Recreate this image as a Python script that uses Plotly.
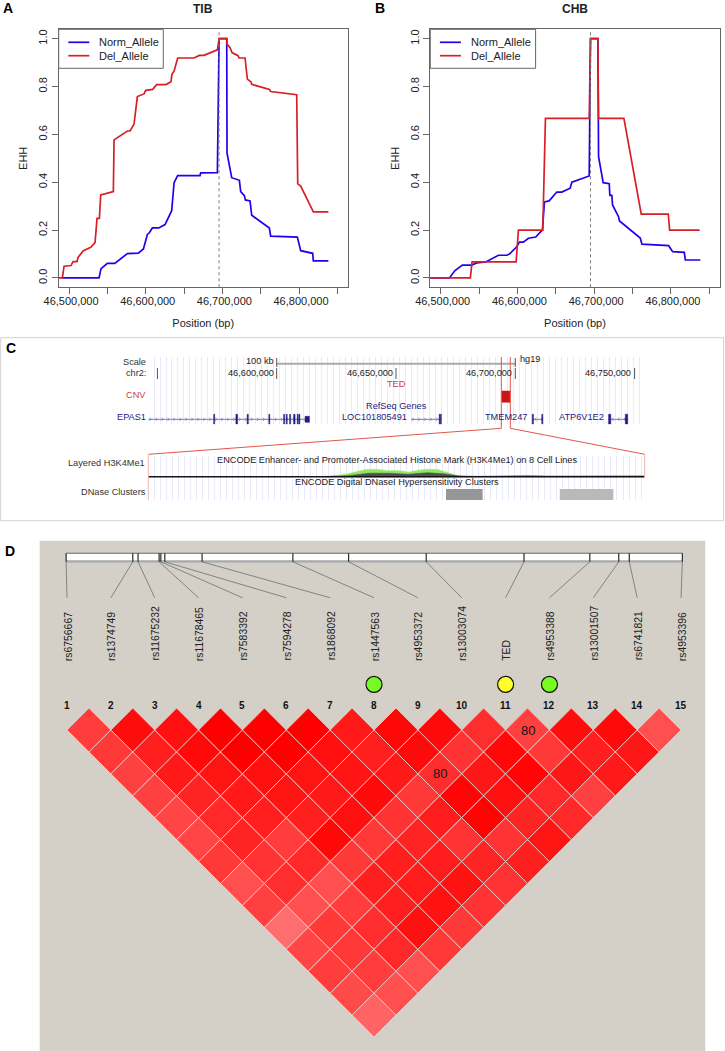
import plotly.graph_objects as go

W, H = 725, 1051
FONT = "Liberation Sans"
BLUE = "#2200ee"
RED = "#d81e26"
AXIS = "#666666"
NAVY = "#1f1a80"
ARROW = "#7a74bd"

# Panel A (TIB)
tib_norm_pos = [46491300, 46539100, 46541700, 46550000, 46559600, 46576100, 46590400, 46597000, 46602200,
                46604300, 46608700, 46617000, 46625200, 46633900, 46637000, 46641700, 46670900, 46671700,
                46693500, 46695700, 46705700, 46706100, 46712200, 46722200, 46723900, 46728700, 46730000,
                46736100, 46738300, 46761300, 46763000, 46797800, 46802200, 46817800, 46818700, 46838300]
tib_norm_ehh = [0, 0, .039, .061, .061, .102, .104, .121, .182, .187, .209, .209, .223, .281, .398, .428, .428,
                .439, .44, 1, 1, .521, .419, .408, .361, .344, .326, .322, .262, .209, .175, .171, .114, .103,
                .071, .071]
tib_del_pos = [46486500, 46491300, 46493500, 46502600, 46505200, 46510400, 46511700, 46518700, 46528300,
               46533900, 46536500, 46539600, 46541300, 46557800, 46558700, 46576100, 46579600, 46584800,
               46589100, 46597800, 46600000, 46609100, 46614300, 46626500, 46633000, 46634300, 46637000,
               46641700, 46663000, 46670000, 46676100, 46693500, 46695700, 46705700, 46706100, 46710000,
               46712600, 46720400, 46721700, 46729600, 46732600, 46737400, 46738300, 46761300, 46763000,
               46797000, 46798300, 46802200, 46818700, 46838300]
tib_del_ehh = [0, 0, .049, .052, .068, .068, .086, .114, .128, .148, .249, .249, .347, .361, .577, .614, .614,
               .643, .758, .769, .784, .788, .808, .808, .82, .852, .864, .919, .919, .93, .93, .953, 1, 1,
               .978, .962, .942, .929, .919, .919, .831, .819, .809, .788, .779, .766, .393, .384, .276, .276]
tib_core = 46695700

# Panel B (CHB)
chb_norm_pos = [46486100, 46511300, 46518700, 46528300, 46540400, 46547000, 46558700, 46575200, 46586100,
                46589600, 46599100, 46602600, 46607800, 46614300, 46623900, 46632600, 46635200, 46641300,
                46651300, 46657800, 46668700, 46670900, 46693500, 46695200, 46704800, 46705700, 46711700,
                46719600, 46720400, 46723000, 46723900, 46731700, 46733000, 46760000, 46762200, 46797000,
                46802200, 46817400, 46818700, 46838300]
chb_norm_ehh = [0, 0, .031, .054, .054, .063, .067, .095, .095, .1, .13, .15, .15, .166, .171, .201, .318, .322,
                .359, .359, .375, .4, .426, 1, 1, .507, .398, .394, .345, .345, .305, .256, .238, .167, .141,
                .135, .11, .107, .075, .075]
chb_del_pos = [46486100, 46538700, 46540900, 46598300, 46601300, 46633000, 46636500, 46693500, 46695200,
               46704800, 46705700, 46738700, 46761300, 46796500, 46798300, 46837400]
chb_del_ehh = [0, 0, .067, .067, .2, .2, .667, .667, 1, 1, .667, .667, .267, .267, .2, .2]
chb_core = 46695200

ehh_ticks = [0, .2, .4, .6, .8, 1]
pos_ticks = [46500000 + 50000 * k for k in range(8)]
pos_labels = ["46,500,000", "", "46,600,000", "", "46,700,000", "", "46,800,000", ""]
allele_names = ["Norm_Allele", "Del_Allele"]
allele_colors = [BLUE, RED]

# Panel C, browser view
browser_ticks = [46550000, 46600000, 46650000, 46700000, 46750000]
browser_labels = ["", "46,600,000", "46,650,000", "46,700,000", "46,750,000"]
scale_bar = [46600000, 46700000]
ted_region = [46694300, 46697900]
epas1_span = [46546200, 46613200]
epas1_exons = [(46573600, 46574000), (46582900, 46583600), (46587600, 46588100), (46596700, 46597100),
               (46602900, 46603300), (46604000, 46604400), (46605400, 46605800), (46607100, 46607700),
               (46608600, 46609000), (46609300, 46609700), (46611900, 46613700)]
loc_span = [46656300, 46669000]
loc_exons = [(46668100, 46668400), (46668600, 46669000)]
tmem_span = [46707000, 46711500]
tmem_exons = [(46707100, 46707600), (46711100, 46711500)]
atp_span = [46739300, 46747100]
atp_exons = [(46739100, 46740000), (46746100, 46747100)]

# Panel C, zoomed tracks
zoom_range = [46694300, 46698100]
green_pos = [46695640, 46695760, 46695830, 46695910, 46695960, 46696040, 46696140, 46696230, 46696290, 46696370,
             46696440, 46696520, 46696600, 46696670, 46696750]
green_height = [.3, 1.5, 3, 5.5, 7, 7.5, 6, 6, 4.5, 6.5, 7.5, 7, 3.5, 1, .3]
grey_pos = [46695640, 46695830, 46695990, 46696140, 46696290, 46696440, 46696560, 46696670, 46696790]
grey_height = [0, 1, 3.5, 3.5, 2.5, 4, 3, 1, .2]
blue_pos = [46696750, 46696900, 46697060, 46697210, 46697360, 46697540, 46698100]
blue_height = [.3, .8, 1, 1.2, .8, .9, .9]
dnase_blocks = [(46696580, 46696860, "#969696"), (46697450, 46697860, "#b9b9b9")]

# Panel D
snp_names = ["rs6756667", "rs1374749", "rs11675232", "rs11678465", "rs7583392", "rs7594278", "rs1868092",
             "rs1447563", "rs4953372", "rs13003074", "TED", "rs4953388", "rs13001507", "rs6741821", "rs4953396"]
snp_on_bar = [.98, 2.5, 2.62, 3.1, 3.14, 3.23, 4.08, 6.15, 7.42, 9.19, 11.42, 12.92, 13.58, 13.82, 15.03]
# upper triangle, one row per marker: LD strength in percent of full red
ld_strength = [
    [76, 78, 75, 75, 73, 73, 78, 69, 75, 57, 73, 76, 71, 61],
    [95, 88, 90, 86, 84, 86, 80, 82, 69, 78, 78, 76, 69],
    [94, 96, 92, 90, 88, 76, 84, 69, 76, 82, 84, 69],
    [100, 100, 94, 92, 88, 97, 78, 88, 88, 94, 78],
    [100, 100, 92, 90, 94, 78, 88, 89, 93, 78],
    [100, 94, 92, 96, 80, 86, 89, 93, 80],
    [90, 88, 90, 78, 89, 80, 86, 80],
    [97, 96, 82, 98, 99, 80, 88],
    [96, 80, 91, 94, 86, 92],
    [82, 97, 98, 84, 84],
    [75, 78, 91, 75],
    [95, 88, 90],
    [96, 91],
    [69],
]
ld_labels = {(11, 12): "80", (8, 11): "80"}
snp_marks = {8: "#78fb24", 11: "#ffff2a", 12: "#78fb24"}


def px(x):
    return x / W


def py(y):
    return 1 - y / H


fig = go.Figure()
annotations = []
shapes = []


def text(s, x, y, size=9.2, color="#222222", anchor="center", bold=False, angle=0, xref="paper", yref="paper", yanchor="middle"):
    annotations.append(dict(text=f"<b>{s}</b>" if bold else s, x=x, y=y, xref=xref, yref=yref, xanchor=anchor,
                            yanchor=yanchor, showarrow=False, textangle=angle, borderpad=0,
                            font=dict(size=size, color=color, family=FONT)))


def frame_line(x0, y0, x1, y1, color, width=1):
    shapes.append(dict(type="line", xref="paper", yref="paper", x0=px(x0), x1=px(x1), y0=py(y0), y1=py(y1),
                       line=dict(color=color, width=width)))


def add_ehh(pos, ehh, name, color, xa, ya):
    fig.add_trace(go.Scatter(x=pos, y=ehh, mode="lines", name=name, xaxis=xa, yaxis=ya,
                             showlegend=False, line=dict(color=color, width=1.7)))


add_ehh(tib_norm_pos, tib_norm_ehh, allele_names[0], BLUE, "x", "y")
add_ehh(tib_del_pos, tib_del_ehh, allele_names[1], RED, "x", "y")
add_ehh(chb_norm_pos, chb_norm_ehh, allele_names[0], BLUE, "x2", "y2")
add_ehh(chb_del_pos, chb_del_ehh, allele_names[1], RED, "x2", "y2")
for core, xref, yref in [(tib_core, "x", "y domain"), (chb_core, "x2", "y2 domain")]:
    shapes.append(dict(type="line", xref=xref, yref=yref, x0=core, x1=core, y0=0, y1=1,
                       line=dict(color="#777777", width=1, dash="dot")))


def legend_box(left, right):
    # plotly's own legend can't get rows this tight, so the R style box is drawn by hand
    shapes.append(dict(type="rect", xref="paper", yref="paper", x0=px(left), x1=px(right), y0=py(68.3), y1=py(29.3),
                       fillcolor="white", line=dict(color=AXIS, width=1)))
    for name, color, y in zip(allele_names, allele_colors, [42.3, 55.7]):
        frame_line(left + 9.6, y, left + 30.6, y, color, 1.7)
        text(name, px(left + 39.6), py(y), size=11, anchor="left")


legend_box(58.7, 163.3)
legend_box(430.3, 535.6)

# panel C frame
shapes.append(dict(type="rect", xref="paper", yref="paper", x0=px(.7), x1=px(723.6), y0=py(337.7), y1=py(520.7),
                   line=dict(color="#d2d2d2", width=1)))


def add_gene(span, exons, direction, y=419.3):
    # chevrons every 6 px or so along the intron line, like the browser draws them
    lean = 630 if direction == "right" else -630
    xs, ys = [], []
    for x in range(span[0] + 1200, span[1], 2500):
        xs += [x - lean, x, x - lean, None]
        ys += [y - 1.6, y, y + 1.6, None]
    fig.add_trace(go.Scatter(x=span, y=[y, y], mode="lines", xaxis="x3", yaxis="y3", showlegend=False,
                             line=dict(color=ARROW, width=1)))
    fig.add_trace(go.Scatter(x=xs, y=ys, mode="lines", xaxis="x3", yaxis="y3", showlegend=False,
                             line=dict(color=ARROW, width=.8)))
    xs, ys = [], []
    for start, end in exons:
        half = 3 if end - start > 1000 and start > 46610000 and start < 46620000 else 5
        xs += [start, end, end, start, start, None]
        ys += [y - half, y - half, y + half, y + half, y - half, None]
    fig.add_trace(go.Scatter(x=xs, y=ys, mode="lines", fill="toself", fillcolor=NAVY, xaxis="x3", yaxis="y3",
                             showlegend=False, line=dict(color=NAVY, width=.5)))


add_gene(epas1_span, epas1_exons, "right")
add_gene(loc_span, loc_exons, "right")
add_gene(tmem_span, tmem_exons, "left")
add_gene(atp_span, atp_exons, "left")

fig.add_trace(go.Scatter(x=scale_bar, y=[363.7, 363.7], mode="lines", xaxis="x3", yaxis="y3", showlegend=False,
                         line=dict(color="#aaaaaa", width=2)))
for tick in scale_bar:
    fig.add_trace(go.Scatter(x=[tick, tick], y=[358, 367], mode="lines", xaxis="x3", yaxis="y3", showlegend=False,
                             line=dict(color="#555555", width=1)))
for tick, label in zip(browser_ticks, browser_labels):
    fig.add_trace(go.Scatter(x=[tick, tick], y=[368, 379], mode="lines", xaxis="x3", yaxis="y3", showlegend=False,
                             line=dict(color="#555555", width=1)))
    if label:
        text(label, tick - 900, 373, xref="x3", yref="y3", anchor="right")
fig.add_trace(go.Scatter(x=[ted_region[0], ted_region[1], ted_region[1], ted_region[0], ted_region[0]],
                         y=[391, 391, 402.3, 402.3, 391], mode="lines", fill="toself", fillcolor="#cc1418",
                         xaxis="x3", yaxis="y3", showlegend=False, line=dict(color="#cc1418", width=.5)))

for s, x, y, col in [("Scale", 147, 361.5, "#333333"), ("chr2:", 147, 373, "#333333"), ("CNV", 147, 394.7, "#d83a3a"),
                     ("EPAS1", 146.7, 416.7, NAVY), ("Layered H3K4Me1", 146, 463, "#333333"),
                     ("DNase Clusters", 146.7, 492.3, "#333333"), ("100 kb", 275.3, 361, "#222222"),
                     ("LOC101805491", 408, 416.7, NAVY), ("TMEM247", 528, 416.7, NAVY), ("ATP6V1E2", 605.3, 416.7, NAVY)]:
    text(s, px(x), py(y), anchor="right", color=col)
text("hg19", px(518.7), py(359), anchor="left")
text("TED", px(396), py(384.3), color="#d83a3a")
text("RefSeq Genes", px(396), py(405.7), color=NAVY)
text("ENCODE Enhancer- and Promoter-Associated Histone Mark (H3K4Me1) on 8 Cell Lines", px(397.3), py(460))
text("ENCODE Digital DNaseI Hypersensitivity Clusters", px(397.2), py(481.7))

# lines that tie the TED block to the zoomed tracks
wedge = "#e2574c"
frame_line(501.3, 357, 501.3, 428.3, wedge)
frame_line(510.3, 357, 510.3, 428.3, wedge)
frame_line(501.3, 428.3, 148.5, 454.3, wedge)
frame_line(510.3, 428.3, 644.7, 454.3, wedge)
frame_line(148.3, 454.3, 148.3, 500, "#f3b5b0")
frame_line(644.7, 454.3, 644.7, 477, "#f3b5b0")

baseline = 476.7


def add_signal(pos, height, color):
    tops = [baseline - h for h in height]
    fig.add_trace(go.Scatter(x=pos + pos[::-1], y=tops + [baseline] * len(pos), mode="lines", fill="toself",
                             xaxis="x4", yaxis="y4", showlegend=False, fillcolor=color, line=dict(color=color, width=.5)))


add_signal(green_pos, green_height, "#90e85a")
add_signal(grey_pos, grey_height, "#4a5058")
add_signal(blue_pos, blue_height, "#6a5cf0")
fig.add_trace(go.Scatter(x=zoom_range, y=[baseline, baseline], mode="lines", xaxis="x4", yaxis="y4", showlegend=False,
                         line=dict(color="#151515", width=1.5)))
for start, end, color in dnase_blocks:
    fig.add_trace(go.Scatter(x=[start, end, end, start, start], y=[489, 489, 500, 500, 489], mode="lines", fill="toself",
                             fillcolor=color, xaxis="x4", yaxis="y4", showlegend=False, line=dict(color=color, width=0)))

# panel D
shapes.append(dict(type="rect", xref="paper", yref="paper", x0=px(39.7), x1=px(705.3), y0=py(540.7), y1=0,
                   layer="below", fillcolor="#d4d0c8", line=dict(width=0)))
for row, values in enumerate(ld_strength):
    i = row + 1
    for off, strength in enumerate(values):
        j = i + off + 1
        mid, d = (i + j) / 2, j - i
        g = round(255 * (1 - strength / 100))
        fig.add_trace(go.Scatter(x=[mid - .5, mid, mid + .5, mid, mid - .5], y=[d, d - 1, d, d + 1, d], mode="lines",
                                 fill="toself", fillcolor=f"rgb(255,{g},{g})", xaxis="x5", yaxis="y5", showlegend=False,
                                 hoverinfo="skip", line=dict(color="#e2d6d0", width=.8)))
for (i, j), label in ld_labels.items():
    text(label, (i + j) / 2, j - i, size=13, color="#141414", xref="x5", yref="y5")

fig.add_trace(go.Scatter(x=[snp_on_bar[0], snp_on_bar[-1], snp_on_bar[-1], snp_on_bar[0], snp_on_bar[0]],
                         y=[-7.06, -7.06, -6.71, -6.71, -7.06], mode="lines", fill="toself", fillcolor="white",
                         xaxis="x5", yaxis="y5", showlegend=False, line=dict(width=0)))
fig.add_trace(go.Scatter(x=[snp_on_bar[0], snp_on_bar[-1]], y=[-7.06, -7.06], mode="lines", xaxis="x5", yaxis="y5",
                         showlegend=False, line=dict(color="#666666", width=1)))
fig.add_trace(go.Scatter(x=[snp_on_bar[0], snp_on_bar[-1]], y=[-6.69, -6.69], mode="lines", xaxis="x5", yaxis="y5",
                         showlegend=False, line=dict(color="#a8a8a8", width=2.2)))
for k, name in enumerate(snp_names):
    idx = k + 1
    fig.add_trace(go.Scatter(x=[snp_on_bar[k], snp_on_bar[k]], y=[-7.06, -6.67], mode="lines", xaxis="x5", yaxis="y5",
                             showlegend=False, line=dict(color="#2a2a2a", width=1.2)))
    fig.add_trace(go.Scatter(x=[snp_on_bar[k], idx], y=[-6.67, -5.03], mode="lines", xaxis="x5", yaxis="y5",
                             showlegend=False, line=dict(color="#6f6f6f", width=.8)))
    text(name, idx + .02, -2.11, size=10.4, color="#222222", angle=-90, xref="x5", yref="y5", yanchor="bottom")
    text(str(idx), idx, -.14, size=10, bold=True, color="#111111", xref="x5", yref="y5")
for idx, color in snp_marks.items():
    fig.add_trace(go.Scatter(x=[idx], y=[-1.08], mode="markers", xaxis="x5", yaxis="y5", showlegend=False,
                             marker=dict(size=16, color=color, line=dict(color="#111111", width=1.2))))

text("A", px(7.7), py(8.3), size=14, bold=True, color="black")
text("B", px(380.3), py(8.3), size=14, bold=True, color="black")
text("C", px(10.7), py(348.3), size=14, bold=True, color="black")
text("D", px(10), py(550.7), size=14, bold=True, color="black")
text("TIB", px(202.7), py(9.3), size=12, bold=True, color="#222222")
text("CHB", px(574.7), py(9.3), size=12, bold=True, color="#222222")


def ehh_axes(n, left, right):
    common = dict(showline=True, linecolor=AXIS, linewidth=1, mirror=True, ticks="outside", ticklen=6, tickcolor=AXIS,
                  showgrid=False, zeroline=False, automargin=False, tickfont=dict(size=11, color="#222222", family=FONT))
    x = dict(common, domain=[px(left), px(right)], range=[46486500, 46863500], tickmode="array", tickvals=pos_ticks,
             ticktext=pos_labels, ticklabelshift=2, ticklabelstandoff=-3,
             title=dict(text="Position (bp)", standoff=13, font=dict(size=11, color="#222222", family=FONT)))
    y = dict(common, domain=[py(287.3), py(29.3)], range=[-.039, 1.039], tickmode="array", tickvals=ehh_ticks,
             ticktext=["0.0", "0.2", "0.4", "0.6", "0.8", "1.0"], tickangle=-90,
             title=dict(text="EHH", standoff=7, font=dict(size=11, color="#222222", family=FONT)))
    return {f"xaxis{n}": dict(x, anchor=f"y{n}"), f"yaxis{n}": dict(y, anchor=f"x{n}")}


hidden = dict(showticklabels=False, ticks="", zeroline=False, showline=False, automargin=False)
stripes = dict(showgrid=True, gridcolor="#e9e9fb", gridwidth=1.4, tickmode="linear")
layout_axes = {}
layout_axes.update(ehh_axes("", 58.7, 347.7))
layout_axes.update(ehh_axes("2", 430.3, 719.7))
layout_axes["xaxis3"] = dict(hidden, **stripes, domain=[px(148), px(644.7)], range=[46546060, 46754230], anchor="y3",
                             tick0=46546060, dtick=2514)
layout_axes["yaxis3"] = dict(hidden, showgrid=False, domain=[py(424.3), py(357)], range=[424.3, 357], anchor="x3")
layout_axes["xaxis4"] = dict(hidden, **stripes, domain=[px(148), px(644.7)], range=zoom_range, anchor="y4",
                             tick0=zoom_range[0], dtick=46)
layout_axes["yaxis4"] = dict(hidden, showgrid=False, domain=[py(500), py(455.7)], range=[500, 455.7], anchor="x4")
layout_axes["xaxis5"] = dict(hidden, showgrid=False, domain=[px(39.7), px(705.3)], range=[.3776, 15.553], anchor="y5")
layout_axes["yaxis5"] = dict(hidden, showgrid=False, domain=[0, py(540.7)], range=[15.638, -7.632], anchor="x5")
fig.update_layout(width=W, height=H, margin=dict(l=0, r=0, t=0, b=0), paper_bgcolor="white", plot_bgcolor="rgba(0,0,0,0)",
                  font=dict(family=FONT), hovermode=False, showlegend=False,
                  annotations=annotations, shapes=shapes, **layout_axes)
fig.write_html("out.html", config=dict(displayModeBar=False),
               post_script="document.body.style.margin='0';document.body.style.overflow='hidden';")
